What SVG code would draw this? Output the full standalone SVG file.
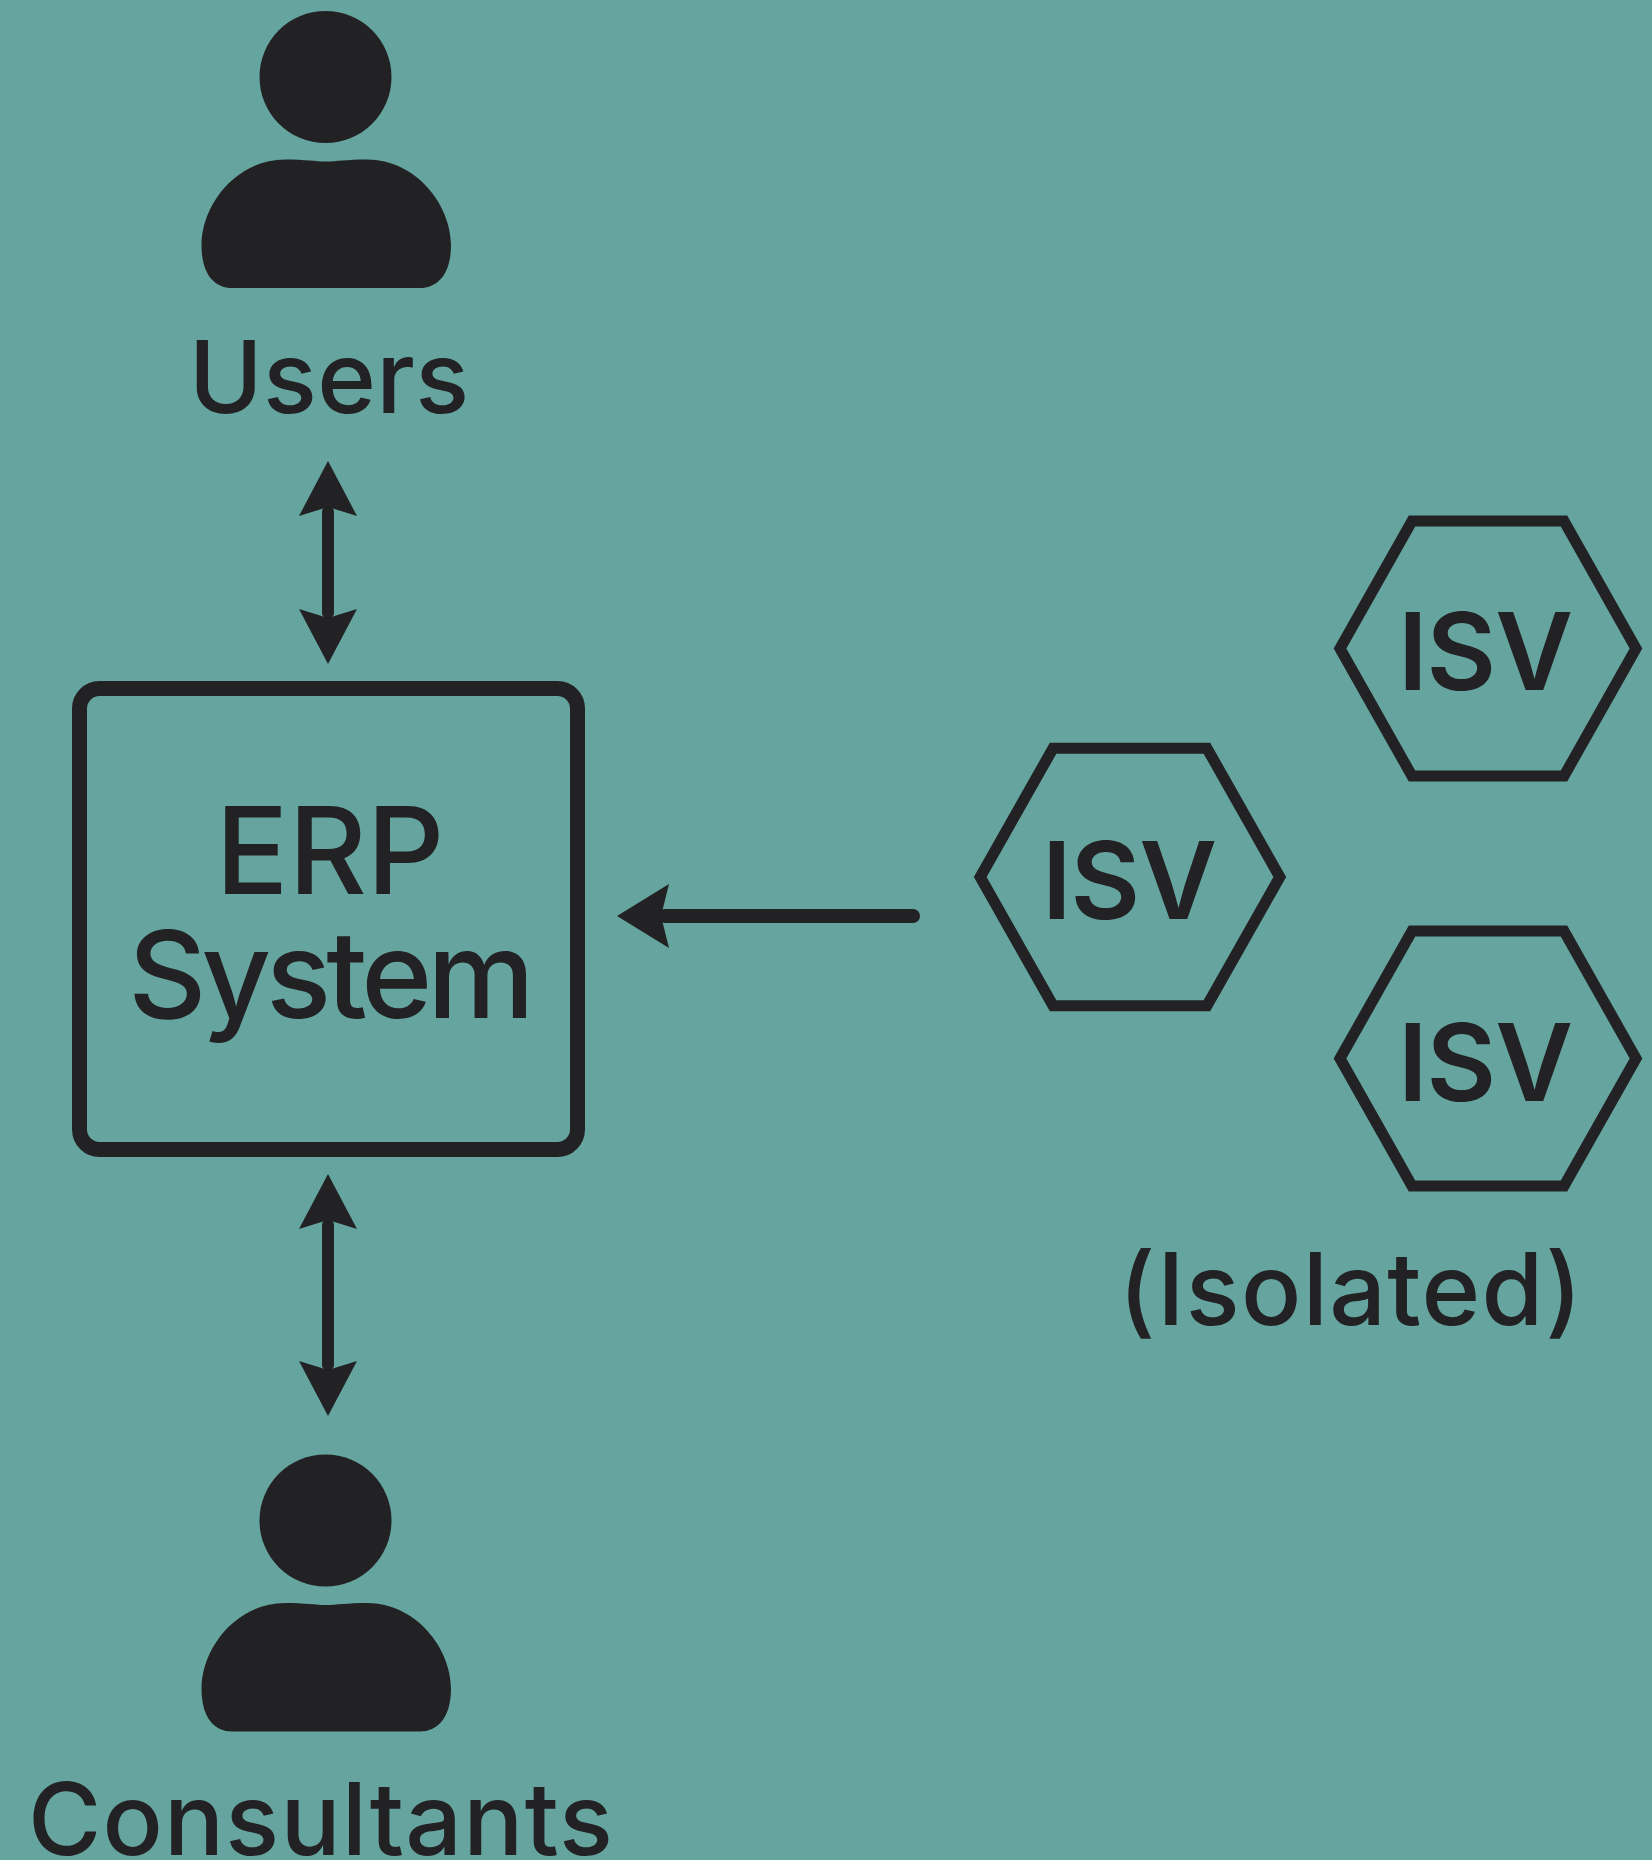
<svg xmlns="http://www.w3.org/2000/svg" width="1652" height="1860" viewBox="0 0 1652 1860">
<style>
text{font-family:Inter,"Liberation Sans",sans-serif;fill:#222224;text-anchor:middle;font-weight:500}
.lab{font-size:100px}
.erp{font-size:121px}
.isv{font-size:107px;font-weight:600;letter-spacing:-1px}
.hex{fill:none;stroke:#222224;stroke-width:11;stroke-linejoin:miter}
.box{fill:none;stroke:#222224;stroke-width:15}
.conn{fill:none;stroke:#222224;stroke-width:12;stroke-linecap:round}
.ink{fill:#222224}
</style>
<defs>
<marker id="head" markerUnits="userSpaceOnUse" viewBox="0 0 55 58" refX="4" refY="29" markerWidth="55" markerHeight="58" orient="auto-start-reverse"><path class="ink" d="M55 29L0 0L9 29L0 58Z"/></marker>
<marker id="headL" markerUnits="userSpaceOnUse" viewBox="0 0 52 64" refX="4" refY="32" markerWidth="52" markerHeight="64" orient="auto"><path class="ink" d="M52 32L0 0L8 32L0 64Z"/></marker>
<g id="person"><circle class="ink" cx="325.5" cy="77" r="66"/><path class="ink" d="M326 161.5C316 161.5 305 159.5 285 159.5C236 159.5 201.5 205 201.5 245C201.5 275 215 288 232 288L420 288C437 288 451 275 451 245C451 205 416 159.5 367 159.5C347 159.5 336 161.5 326 161.5Z"/></g>
<polygon id="hexa" class="hex" points="-148,0 -76,-127.5 76,-127.5 148,0 76,127.5 -76,127.5"/>
</defs>
<rect width="1652" height="1860" fill="#65A49F"/>
<g id="connectors">
<line class="conn" x1="328" y1="512" x2="328" y2="613" marker-start="url(#head)" marker-end="url(#head)"/>
<line class="conn" x1="328" y1="1225" x2="328" y2="1365" marker-start="url(#head)" marker-end="url(#head)"/>
<line class="conn" style="stroke-width:14" x1="913" y1="916" x2="665" y2="916" marker-end="url(#headL)"/>
</g>
<g id="users"><use href="#person"/><text class="lab" x="329" y="413" style="letter-spacing:.3px">Users</text></g>
<g id="erp"><rect class="box" x="79.5" y="688.5" width="498" height="461" rx="20"/><text class="erp" x="330" y="894">ERP</text><text class="erp" x="329" y="1018" style="letter-spacing:-5px">System</text></g>
<g id="consultants"><use href="#person" y="1443.5"/><text class="lab" x="321" y="1855" style="letter-spacing:1.2px">Consultants</text></g>
<g id="isv-mid"><use href="#hexa" transform="translate(1130 877) scale(1.012 1.01)"/><text class="isv" x="1129" y="919">ISV</text></g>
<g id="isv-top"><use href="#hexa" x="1488" y="648.5"/><text class="isv" x="1485" y="690">ISV</text></g>
<g id="isv-bottom"><use href="#hexa" x="1488" y="1058.5"/><text class="isv" x="1485" y="1101">ISV</text></g>
<g id="isolated"><text class="lab" x="1351" y="1325" style="letter-spacing:1.3px">(Isolated)</text></g>
</svg>
